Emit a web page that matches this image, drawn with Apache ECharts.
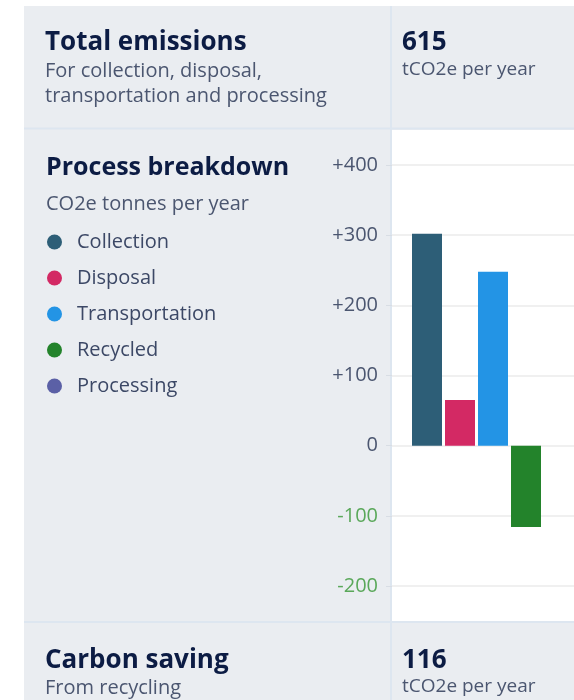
<!DOCTYPE html>
<html>
<head>
<meta charset="utf-8">
<script src="https://cdn.jsdelivr.net/npm/echarts@6/dist/echarts.min.js"></script>
<style>
 html,body{margin:0;padding:0;background:#fff;}
 #main{width:574px;height:700px;}
</style>
</head>
<body>
<div id="main"></div>
<script>
var names = ['Collection', 'Disposal', 'Transportation', 'Recycled', 'Processing'];
var values = [302, 65, 248, -116, 0];
var colors = ['#2d5e77', '#d32964', '#2394e5', '#23832b', '#5b60a6'];
var yTicks = [-200, -100, 0, 100, 200, 300, 400];

var chart = echarts.init(document.getElementById('main'));
var font = '"Open Sans", "Noto Sans", sans-serif';
var navy = '#0c1c44';
var grey = '#4b5670';

function txt(x, y, s, size, bold, color) {
    return {
        type: 'text', x: x, y: y, z: 5,
        style: {
            text: s, fontFamily: font, fontSize: size,
            fontWeight: bold ? 'bold' : 'normal', fill: color,
            verticalAlign: 'middle', lineHeight: 25
        }
    };
}

// bars live in a second grid so the group sits 20px in from the white panel
var series = names.map(function (n, i) {
    return {
        name: n,
        type: 'bar',
        xAxisIndex: 1,
        yAxisIndex: 1,
        barWidth: 30,
        barGap: '10%',
        barCategoryGap: 0,
        itemStyle: { color: colors[i] },
        data: [values[i] === 0 ? '-' : values[i]]
    };
});

var yMin = yTicks[0], yMax = yTicks[yTicks.length - 1];

var option = {
    animation: false,
    backgroundColor: '#fff',
    graphic: [
        { type: 'rect', z: -10, shape: { x: 24, y: 6, width: 560, height: 700 }, style: { fill: '#eaedf1' } },
        { type: 'rect', z: -9, shape: { x: 392, y: 130, width: 190, height: 491 }, style: { fill: '#ffffff' } },
        { type: 'line', z: -8, shape: { x1: 24, y1: 128.5, x2: 574, y2: 128.5 }, style: { stroke: '#dde6f0', lineWidth: 2 } },
        { type: 'line', z: -8, shape: { x1: 24, y1: 622, x2: 574, y2: 622 }, style: { stroke: '#dde6f0', lineWidth: 2 } },
        { type: 'line', z: -8, shape: { x1: 391, y1: 6, x2: 391, y2: 700 }, style: { stroke: '#dde6f0', lineWidth: 2 } },
        txt(45, 43, 'Total emissions', 26, true, navy),
        txt(45, 84, 'For collection, disposal,\ntransportation and processing', 20, false, grey),
        txt(402, 43, '615', 26, true, navy),
        txt(402, 70, 'tCO2e per year', 19, false, grey),
        txt(46, 168, 'Process breakdown', 25, true, navy),
        txt(46, 204, 'CO2e tonnes per year', 20, false, grey),
        txt(45, 661, 'Carbon saving', 26, true, navy),
        txt(45, 688, 'From recycling', 20, false, grey),
        txt(402, 661, '116', 26, true, navy),
        txt(402, 687, 'tCO2e per year', 19, false, grey)
    ],
    legend: {
        orient: 'vertical',
        left: 47,
        top: 232,
        padding: 0,
        icon: 'circle',
        itemWidth: 15,
        itemHeight: 15,
        itemGap: 16,
        selectedMode: false,
        textStyle: { fontFamily: font, fontSize: 20, color: '#3c4866', padding: [0, 0, 0, 10] },
        data: names
    },
    grid: [
        { left: 392, right: 0, top: 165, bottom: 114 },
        { left: 412, right: 0, top: 165, bottom: 114 }
    ],
    xAxis: [
        { type: 'category', gridIndex: 0, data: [''], show: false },
        { type: 'category', gridIndex: 1, data: [''], show: false }
    ],
    yAxis: [
        {
            type: 'value',
            gridIndex: 0,
            min: yMin,
            max: yMax,
            interval: 100,
            axisLine: { show: false },
            axisTick: { show: true, length: 6, lineStyle: { color: '#d8dde4' } },
            splitLine: { lineStyle: { color: '#ebebeb', width: 1.5 } },
            axisLabel: {
                margin: 14,
                fontFamily: font,
                fontSize: 20,
                formatter: function (v) { return v > 0 ? '+' + v : String(v); },
                color: function (v) { return v < 0 ? '#5aa85a' : '#4b5670'; }
            }
        },
        { type: 'value', gridIndex: 1, min: yMin, max: yMax, interval: 100, show: false, splitLine: { show: false } }
    ],
    series: series
};
chart.setOption(option);
</script>
</body>
</html>
